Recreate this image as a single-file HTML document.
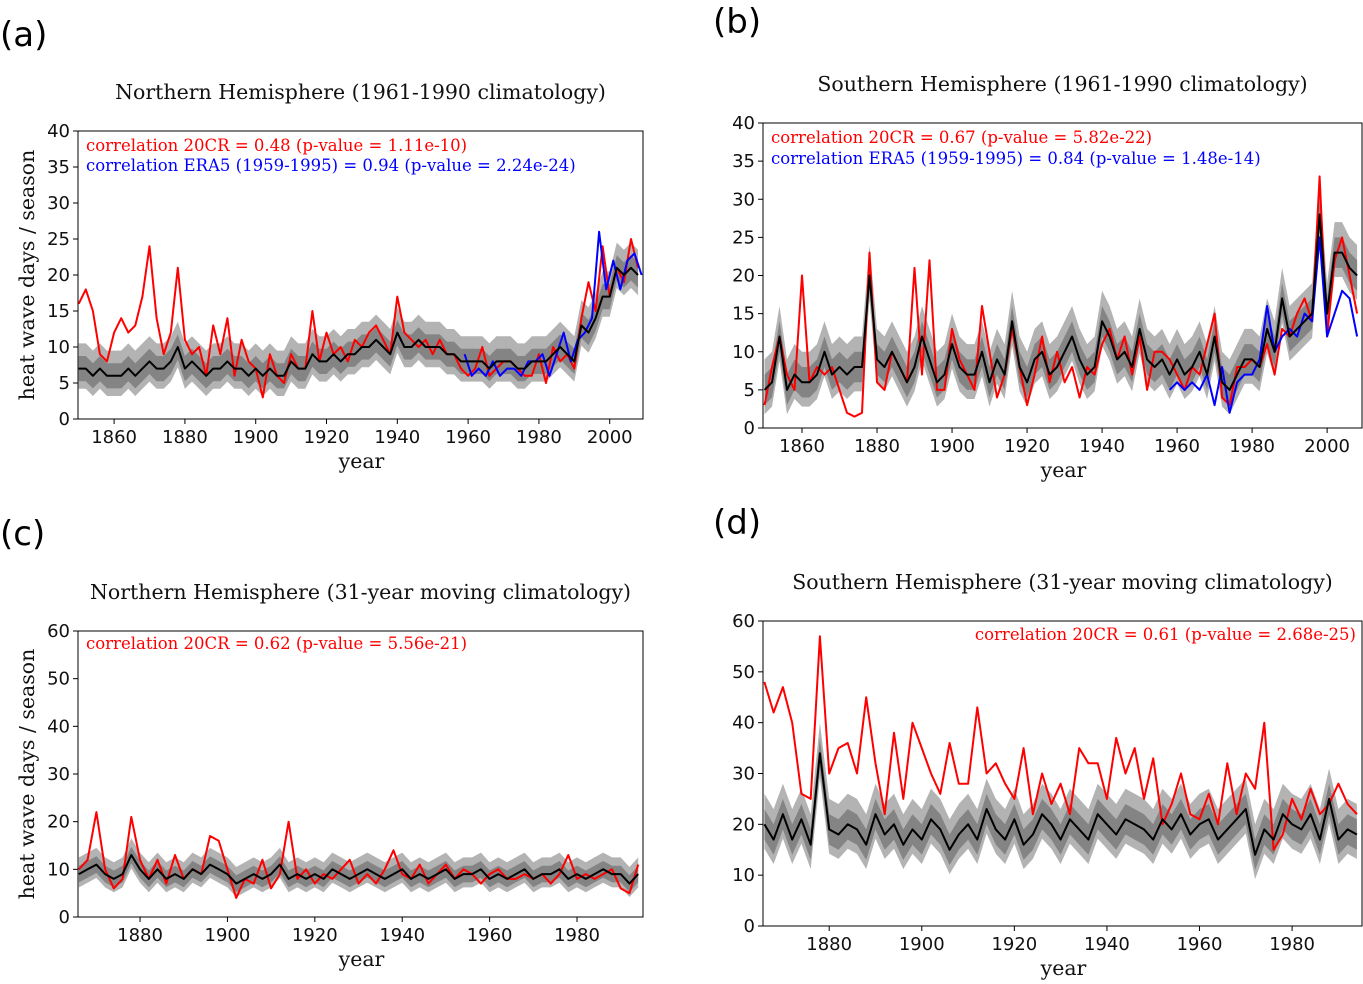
<!DOCTYPE html>
<html><head><meta charset="utf-8">
<style>
html,body{margin:0;padding:0;background:#fff;}
svg{display:block;}
.serif{font-family:"DejaVu Serif","Liberation Serif",serif;}
.sans{font-family:"DejaVu Sans","Liberation Sans",sans-serif;}
</style></head>
<body>
<svg id="fig" width="1363" height="984" viewBox="0 0 1363 984" xmlns="http://www.w3.org/2000/svg">
<text x="0" y="46" class="sans" font-size="34">(a)</text>
<text x="713" y="33" class="sans" font-size="34">(b)</text>
<text x="0" y="545" class="sans" font-size="34">(c)</text>
<text x="713" y="534" class="sans" font-size="34">(d)</text>
</svg>
<script>
// ---- data ----
const redA=[16,18,15,9,8,12,14,12,13,17,24,14,9,12,21,11,9,10,6,13,9,14,6,11,8,7,3,9,6,5,9,7,7,15,8,12,9,10,8,11,10,12,13,11,9,17,12,11,10,11,9,11,9,9,7,6,7,10,6,7,8,8,7,6,6,9,5,10,8,9,7,14,19,15,24,17,21,19,25,21];
const blackA=[7,7,6,7,6,6,6,7,6,7,8,7,7,8,10,7,8,7,6,7,7,8,7,7,6,7,6,7,6,6,8,7,7,9,8,8,9,8,9,9,10,10,11,10,9,12,10,10,11,10,10,10,9,9,8,8,8,8,7,8,8,8,7,7,8,8,8,9,10,9,8,13,12,14,17,17,21,20,21,20];
const blueA=[9,6,7,6,8,6,7,7,6,8,8,9,6,9,12,8,11,12,14,26,18,22,18,22,23,20];
const redB=[3,8,12,7,5,20,6,8,7,8,5,2,1.5,2,23,6,5,10,8,6,21,7,22,5,5,13,9,7,5,16,10,4,7,13,8,3,7,12,6,10,6,8,4,8,7,11,13,9,12,7,12,5,10,10,9,7,5,8,7,11,15,4,3,8,8,9,8,11,7,13,12,15,17,14,33,12,22,25,20,15];
const blackB=[5,6,12,5,7,6,6,7,10,7,8,7,8,8,20,9,8,10,8,6,8,12,9,6,7,11,8,7,7,10,6,9,7,14,8,6,9,10,7,8,10,12,9,7,8,14,12,9,10,8,13,9,8,9,7,9,7,8,10,7,12,6,5,7,9,9,8,13,10,17,12,13,14,15,28,15,23,23,21,20];
const blueB=[5,6,5,6,5,7,3,8,2,6,7,7,9,16,10,12,13,12,15,14,25,12,15,18,17,12];
const redC=[10,12,22,10,6,8,21,12,8,12,7,13,8,10,9,17,16,10,4,8,7,12,6,9,20,8,10,7,9,8,10,12,7,9,7,10,14,9,8,11,7,9,11,8,10,9,7,9,10,8,8,9,8,9,7,9,13,8,9,8,9,10,6,5,11];
const blackC=[9,10,11,9,8,9,13,10,8,10,8,9,8,10,9,11,10,9,7,8,9,8,9,11,8,9,8,9,8,10,9,8,9,10,9,8,9,10,8,9,8,9,10,8,9,9,10,8,9,8,9,10,8,9,9,10,8,9,8,9,10,9,9,7,9];
const redD=[48,42,47,40,26,25,57,30,35,36,30,45,32,22,38,25,40,35,30,26,36,28,28,43,30,32,28,25,35,22,30,24,28,22,35,32,32,25,37,30,35,25,33,20,24,30,22,21,26,20,32,22,30,27,40,15,18,25,21,27,22,24,28,24,22];
const blackD=[20,17,22,17,21,16,34,19,18,20,19,16,22,18,20,16,19,17,21,19,15,18,20,17,23,19,17,21,16,18,22,20,17,21,19,17,22,20,18,21,20,19,17,21,19,22,18,20,21,17,19,21,23,14,19,17,22,20,19,22,17,25,17,19,18];
const spreadA=[3.5], spreadB=[4], spreadC=[3.5], spreadD=[6];
const ticksYA=[0,5,10,15,20,25,30,35,40], ticksXA=[1860,1880,1900,1920,1940,1960,1980,2000];
const ticksYC=[0,10,20,30,40,50,60], ticksXC=[1880,1900,1920,1940,1960,1980];

const NS='http://www.w3.org/2000/svg';
const svg=document.getElementById('fig');
function mk(tag,attrs,parent){const e=document.createElementNS(NS,tag);for(const k in attrs)e.setAttribute(k,attrs[k]);(parent||svg).appendChild(e);return e;}

function panel(p){
  const g=mk('g',{});
  
  
  const sx=v=>p.x0+(v-p.xmin)/(p.xmax-p.xmin)*(p.x1-p.x0);
  const sy=v=>p.y1-(v-p.ymin)/(p.ymax-p.ymin)*(p.y1-p.y0);
  const clipId='clip'+p.id;
  const cp=mk('clipPath',{id:clipId},g);
  mk('rect',{x:p.x0,y:p.y0,width:p.x1-p.x0,height:p.y1-p.y0},cp);
  const pg=mk('g',{'clip-path':'url(#'+clipId+')'},g);
  const yr=(s,st,i)=>s+i*st;
  const sp=p.spread[0];
  let up=p.black.map((v,i)=>sx(yr(p.start,2,i)).toFixed(1)+','+sy(v+sp).toFixed(1));
  let lo=p.black.map((v,i)=>sx(yr(p.start,2,i)).toFixed(1)+','+sy(v-sp*0.8).toFixed(1)).reverse();
  const band=mk('polygon',{points:up.concat(lo).join(' '),fill:'#9a9a9a','fill-opacity':'0.75'},pg);
  
  
  let up2=p.black.map((v,i)=>sx(yr(p.start,2,i)).toFixed(1)+','+sy(v+sp*0.5).toFixed(1));
  let lo2=p.black.map((v,i)=>sx(yr(p.start,2,i)).toFixed(1)+','+sy(v-sp*0.5).toFixed(1)).reverse();
  const band2=mk('polygon',{points:up2.concat(lo2).join(' '),fill:'#707070','fill-opacity':'0.7'},pg);
  
  
  function line(arr,start,col,w,name){
    const pts=arr.map((v,i)=>sx(yr(start,2,i)).toFixed(1)+','+sy(v).toFixed(1)).join(' ');
    const l=mk('polyline',{points:pts,fill:'none',stroke:col,'stroke-width':w,'stroke-linejoin':'round'},pg);
    
    
  }
  line(p.red,p.start,'#ff0000',2,'20cr-line');
  if(p.blue) line(p.blue,p.blueStart,'#0000ff',2,'era5-line');
  line(p.black,p.start,'#000000',2,'ensemble-mean-line');
  const fr=mk('rect',{x:p.x0,y:p.y0,width:p.x1-p.x0,height:p.y1-p.y0,fill:'none',stroke:'#000','stroke-width':1},g);
  
  
  p.ty.forEach(t=>{
    const y=sy(t);
    mk('line',{x1:p.x0-5,x2:p.x0,y1:y,y2:y,stroke:'#000'},g);
    const tx=mk('text',{x:p.x0-8,y:y+6,'text-anchor':'end','font-size':18,class:'sans',fill:'#111'},g);
    tx.textContent=t;
    
    
  });
  p.tx.forEach(t=>{
    const x=sx(t);
    mk('line',{x1:x,x2:x,y1:p.y1,y2:p.y1+5,stroke:'#000'},g);
    const tx=mk('text',{x:x,y:p.y1+24,'text-anchor':'middle','font-size':18,class:'sans',fill:'#111'},g);
    tx.textContent=t;
    
    
  });
  const tt=mk('text',{x:(p.x0+p.x1)/2,y:p.y0-32,'text-anchor':'middle','font-size':20.5,class:'serif',fill:'#111'},g);
  tt.textContent=p.title;
  
  
  const xl=mk('text',{x:(p.x0+p.x1)/2+1,y:p.y1+49,'text-anchor':'middle','font-size':20.5,class:'serif',fill:'#111'},g);
  xl.textContent='year';
  
  
  if(p.ylabel){
    const cy=(p.y0+p.y1)/2;
    const yl=mk('text',{x:34,y:cy,'text-anchor':'middle','font-size':20.5,class:'serif',fill:'#111',transform:'rotate(-90 34 '+cy+')'},g);
    yl.textContent='heat wave days / season';
    
    
  }
  p.notes.forEach(n=>{
    const a=mk('text',{x:n.x,y:n.y,'font-size':16.5,class:'serif',fill:n.c,'text-anchor':n.anchor||'start'},g);
    a.textContent=n.t;
    
    
  });
}
panel({id:'a',x0:78,x1:643,y0:131,y1:419,xmin:1849.8,xmax:2009.4,ymin:0,ymax:40,start:1850,blueStart:1959,
  red:redA,black:blackA,blue:blueA,spread:spreadA,ty:ticksYA,tx:ticksXA,ylabel:true,
  title:'Northern Hemisphere (1961-1990 climatology)',
  notes:[{x:86,y:151,c:'#ff0000',t:'correlation 20CR = 0.48 (p-value = 1.11e-10)'},{x:86,y:171,c:'#0000ff',t:'correlation ERA5 (1959-1995) = 0.94 (p-value = 2.24e-24)'}]});
panel({id:'b',x0:763,x1:1362,y0:123,y1:428,xmin:1849.6,xmax:2009.3,ymin:0,ymax:40,start:1850,blueStart:1958,
  red:redB,black:blackB,blue:blueB,spread:spreadB,ty:ticksYA,tx:ticksXA,ylabel:false,
  title:'Southern Hemisphere (1961-1990 climatology)',
  notes:[{x:771,y:143,c:'#ff0000',t:'correlation 20CR = 0.67 (p-value = 5.82e-22)'},{x:771,y:164,c:'#0000ff',t:'correlation ERA5 (1959-1995) = 0.84 (p-value = 1.48e-14)'}]});
panel({id:'c',x0:78,x1:643,y0:631,y1:917,xmin:1865.8,xmax:1995.1,ymin:0,ymax:60,start:1866,
  red:redC,black:blackC,spread:spreadC,ty:ticksYC,tx:ticksXC,ylabel:true,
  title:'Northern Hemisphere (31-year moving climatology)',
  notes:[{x:86,y:649,c:'#ff0000',t:'correlation 20CR = 0.62 (p-value = 5.56e-21)'}]});
panel({id:'d',x0:763,x1:1362,y0:621,y1:926,xmin:1865.7,xmax:1995.1,ymin:0,ymax:60,start:1866,
  red:redD,black:blackD,spread:spreadD,ty:ticksYC,tx:ticksXC,ylabel:false,
  title:'Southern Hemisphere (31-year moving climatology)',
  notes:[{x:1356,y:640,c:'#ff0000',t:'correlation 20CR = 0.61 (p-value = 2.68e-25)',anchor:'end'}]});
</script>
</body></html>
